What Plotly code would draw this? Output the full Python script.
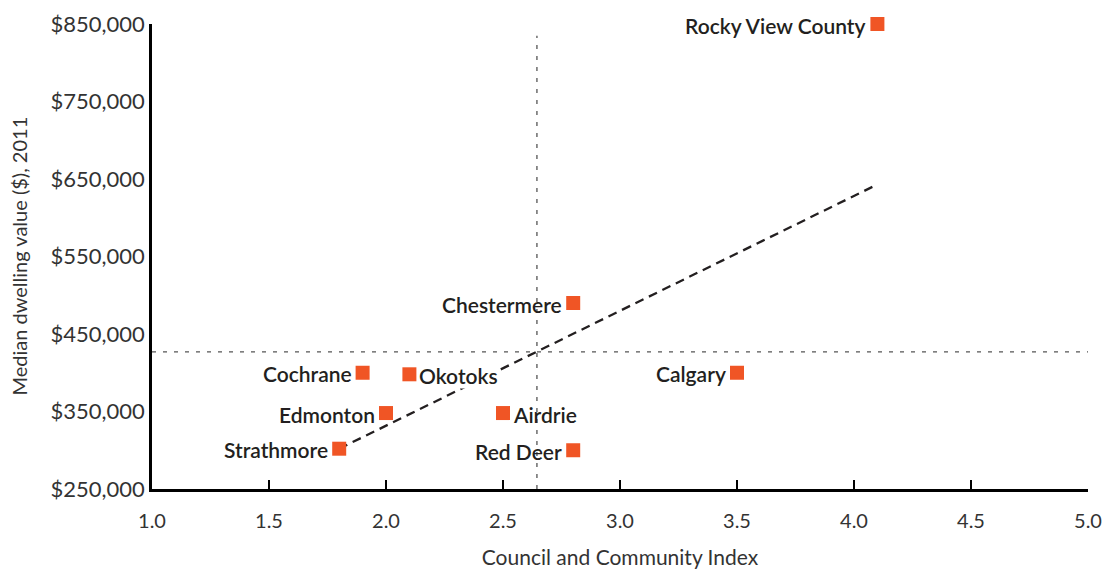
import plotly.graph_objects as go

# data
places = ["Rocky View County", "Chestermere", "Cochrane", "Okotoks", "Calgary",
          "Edmonton", "Airdrie", "Strathmore", "Red Deer"]
index_score = [4.1, 2.8, 1.9, 2.1, 3.5, 2.0, 2.5, 1.8, 2.8]
dwelling_value = [850000, 490000, 400000, 398000, 400000, 348000, 348000, 302000, 300000]
label_side = ["left", "left", "left", "right", "left", "left", "right", "left", "left"]

trend_x = [1.8, 4.1]
trend_y = [302000, 643000]

mean_x = 2.645
mean_y = 427000

x_ticks = [1.0, 1.5, 2.0, 2.5, 3.0, 3.5, 4.0, 4.5, 5.0]
y_ticks = [250000, 350000, 450000, 550000, 650000, 750000, 850000]

ORANGE = "#F05525"
TEXT = "#231F20"
FONT = "Lato, Arial, sans-serif"

fig = go.Figure()

# reference lines at the averages
fig.add_scatter(x=[1.0, 5.04], y=[mean_y, mean_y], mode="lines", cliponaxis=False,
                line=dict(color="#555555", width=1.3, dash="4px,7px"), hoverinfo="skip")
fig.add_scatter(x=[mean_x, mean_x], y=[250000, 835000], mode="lines",
                line=dict(color="#555555", width=1.3, dash="4px,7px"), hoverinfo="skip")

fig.add_scatter(x=trend_x, y=trend_y, mode="lines",
                line=dict(color=TEXT, width=2.3, dash="9px,6px"), hoverinfo="skip")

fig.add_scatter(x=index_score, y=dwelling_value, mode="markers", cliponaxis=False,
                marker=dict(symbol="square", size=14, color=ORANGE, line=dict(width=0)),
                text=places, hoverinfo="text")

for name, x, y, side in zip(places, index_score, dwelling_value, label_side):
    fig.add_annotation(
        x=x, y=y, text=name, showarrow=False,
        xanchor="right" if side == "left" else "left",
        xshift=-10 if side == "left" else 9,
        yshift=-1,
        bgcolor="white" if name == "Okotoks" else "rgba(0,0,0,0)",
        borderpad=0,
        font=dict(family=FONT, size=21, color=TEXT, weight=600),
    )

# y title sits closer to the edge than plotly's standoff allows
fig.add_annotation(
    text="Median dwelling value ($), 2011", textangle=-90, showarrow=False,
    xref="paper", yref="paper", x=0, y=0.5, xanchor="center", yanchor="middle",
    xshift=-134,
    font=dict(family=FONT, size=20, color="#333333"),
)

fig.update_layout(
    width=1105, height=569,
    margin=dict(l=152, r=17, t=24, b=80, autoexpand=False),
    paper_bgcolor="white", plot_bgcolor="white",
    showlegend=False,
    font=dict(family=FONT, color="#333333"),
)
fig.update_xaxes(
    range=[1.0, 5.0], tickvals=x_ticks, ticktext=[f"{v:.1f}" for v in x_ticks],
    showgrid=False, zeroline=False, showline=True, linecolor="black", linewidth=2.5,
    ticks="inside", ticklen=9, tickwidth=2, tickcolor="black", automargin=False,
    ticklabelstandoff=12,
    tickfont=dict(size=20, color="#333333"),
    title=dict(text="Council and Community Index", font=dict(size=21, color="#333333"), standoff=21),
)
fig.update_yaxes(
    range=[250000, 850000], tickvals=y_ticks, ticktext=[f"${v:,.0f}" for v in y_ticks],
    showgrid=False, zeroline=False, showline=True, linecolor="black", linewidth=2.5,
    ticks="", ticklabelstandoff=0, automargin=False,
    tickfont=dict(size=22, color="#333333"),
)

# drop the browser's default body margin so the 1105x569 figure fills the window
fig.write_html("out.html", config={"displayModeBar": False},
               post_script="document.body.style.margin = '0';")
